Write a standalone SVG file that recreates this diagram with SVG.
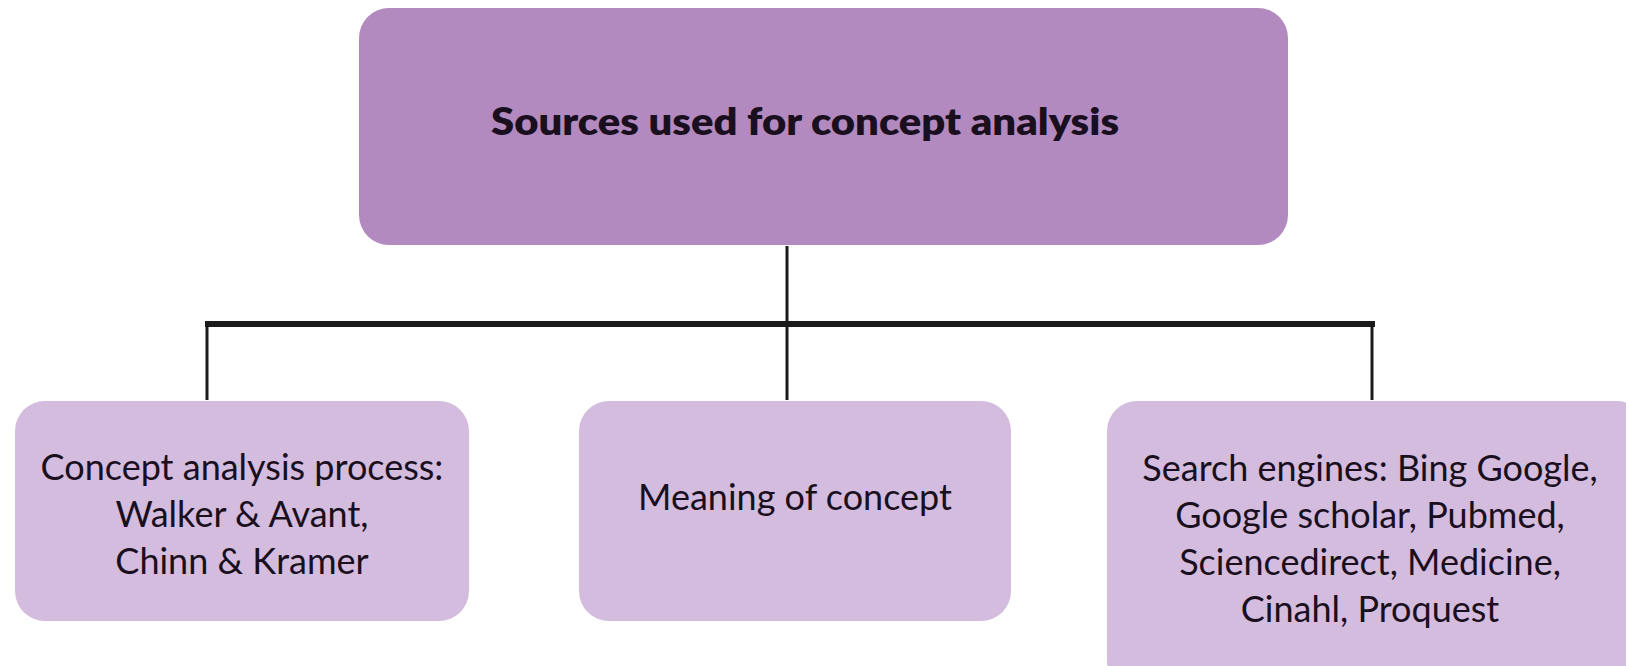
<svg xmlns="http://www.w3.org/2000/svg" width="1626" height="666" viewBox="0 0 1626 666">
  <style>
    .root { fill: #b28abf; }
    .leaf { fill: #d3bcdd; }
    .title { font-family: Lato, "Open Sans", sans-serif; font-weight: 800; font-size: 38px; fill: #1a0f1e; text-anchor: middle; }
    .label { font-family: Lato, "Open Sans", sans-serif; font-size: 36px; fill: #1a0f1e; text-anchor: middle; }
    .wire { stroke: #1b1b1b; fill: none; }
  </style>
  <rect width="1626" height="666" fill="#ffffff"/>

  <g id="connectors">
    <line class="wire" x1="787" y1="246" x2="787" y2="324" stroke-width="3"/>
    <line class="wire" x1="205" y1="324" x2="1375" y2="324" stroke-width="6"/>
    <line class="wire" x1="207" y1="324" x2="207" y2="400" stroke-width="3"/>
    <line class="wire" x1="787" y1="324" x2="787" y2="400" stroke-width="3"/>
    <line class="wire" x1="1372" y1="324" x2="1372" y2="400" stroke-width="3"/>
  </g>

  <g id="sources">
    <rect class="root" x="359" y="8" width="929" height="237" rx="30"/>
    <text class="title" x="805" y="135" textLength="628" lengthAdjust="spacingAndGlyphs">Sources used for concept analysis</text>
  </g>

  <g id="process">
    <rect class="leaf" x="15" y="401" width="454" height="220" rx="30"/>
    <text class="label" x="242" y="480">Concept analysis process:</text>
    <text class="label" x="242" y="527">Walker &amp; Avant,</text>
    <text class="label" x="242" y="574">Chinn &amp; Kramer</text>
  </g>

  <g id="meaning">
    <rect class="leaf" x="579" y="401" width="432" height="220" rx="30"/>
    <text class="label" x="795" y="510">Meaning of concept</text>
  </g>

  <g id="engines">
    <rect class="leaf" x="1107" y="401" width="540" height="290" rx="30"/>
    <text class="label" x="1370" y="481">Search engines: Bing Google,</text>
    <text class="label" x="1370" y="528">Google scholar, Pubmed,</text>
    <text class="label" x="1370" y="575">Sciencedirect, Medicine,</text>
    <text class="label" x="1370" y="622">Cinahl, Proquest</text>
  </g>
</svg>
